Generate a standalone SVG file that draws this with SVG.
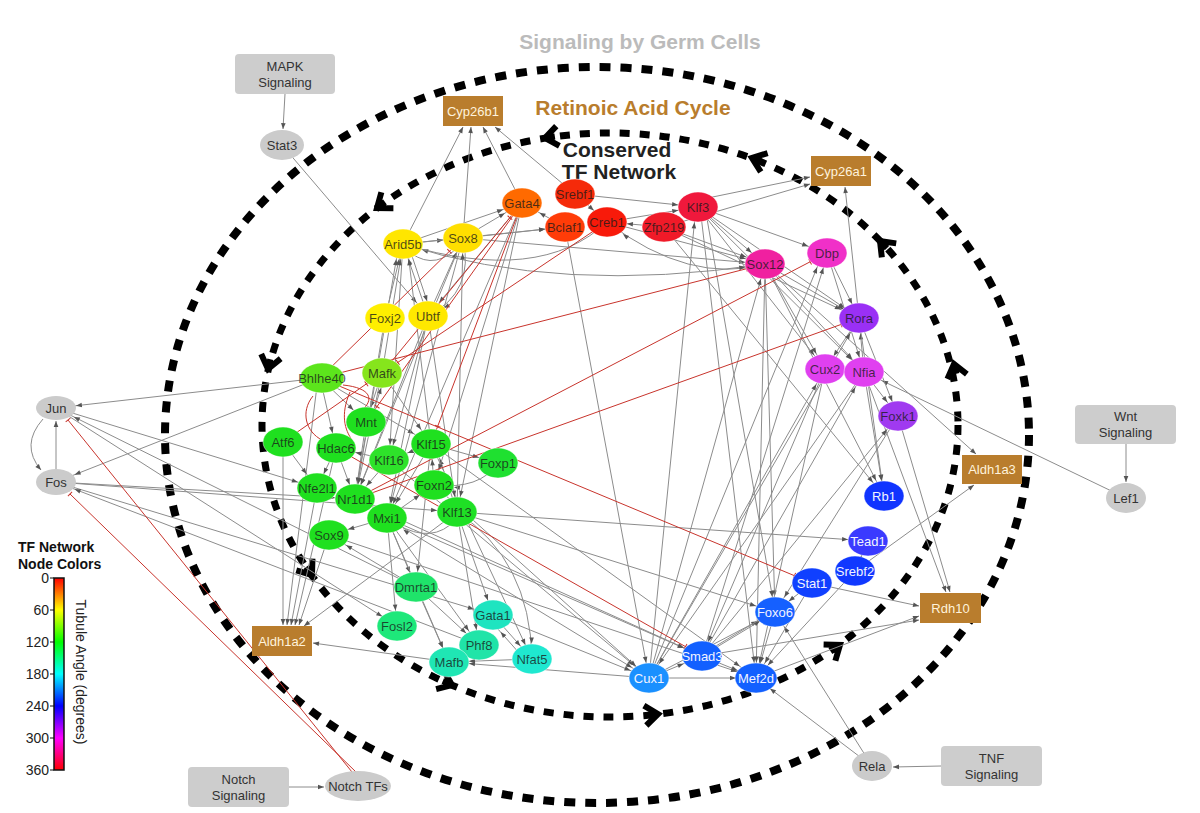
<svg xmlns="http://www.w3.org/2000/svg" width="1200" height="813" viewBox="0 0 1200 813">
<style>
marker{overflow:visible}
.g{stroke:#8c8c8c;stroke-width:1;fill:none}
.r{stroke:#c8342c;stroke-width:1;fill:none}
.lbl{font-family:"Liberation Sans",Arial,sans-serif;font-size:13px;text-anchor:middle}
.dk{fill:#1a1a1a;fill-opacity:0.78}
.wt{fill:#f2f4ff}
.gt{fill:#333}
.box{fill:#b97d2d}
.boxt{fill:#fff3dc}
.sig{fill:#cdcdcd}
.gray{fill:#cbcbcb}
.node{stroke:#ffffff;stroke-width:0.8;stroke-opacity:0.6}
.chev{fill:none;stroke:#000;stroke-width:6;stroke-linejoin:miter}
.title{font-family:"Liberation Sans",Arial,sans-serif;font-weight:bold;font-size:21px;text-anchor:middle}
.leg{font-family:"Liberation Sans",Arial,sans-serif;font-size:14px;fill:#222}
</style>
<defs>
<marker id="h" markerUnits="userSpaceOnUse" orient="auto" overflow="visible" refX="0" refY="0" markerWidth="1" markerHeight="1"><path d="M-26,-2.3L-20,0L-26,2.3z" fill="#555"/></marker>
<marker id="d" markerUnits="userSpaceOnUse" orient="auto" overflow="visible" refX="0" refY="0" markerWidth="1" markerHeight="1"><path d="M-23.5,-2.3L-17.5,0L-23.5,2.3z" fill="#555"/></marker>
<marker id="v" markerUnits="userSpaceOnUse" orient="auto" overflow="visible" refX="0" refY="0" markerWidth="1" markerHeight="1"><path d="M-21.5,-2.3L-15.5,0L-21.5,2.3z" fill="#555"/></marker>
<marker id="e" markerUnits="userSpaceOnUse" orient="auto" overflow="visible" refX="0" refY="0" markerWidth="1" markerHeight="1"><path d="M-6,-2.3L0,0L-6,2.3z" fill="#555"/></marker>
<marker id="t" markerUnits="userSpaceOnUse" orient="auto" overflow="visible" refX="0" refY="0" markerWidth="1" markerHeight="1"><path d="M-19,-3L-19,3" stroke="#c8342c" stroke-width="1"/></marker>
<marker id="t0" markerUnits="userSpaceOnUse" orient="auto" overflow="visible" refX="0" refY="0" markerWidth="1" markerHeight="1"><path d="M0,-3L0,3" stroke="#c8342c" stroke-width="1"/></marker>
<linearGradient id="hue" x1="0" y1="0" x2="0" y2="1">
<stop offset="0" stop-color="#ff0000"/><stop offset="0.1667" stop-color="#ffff00"/><stop offset="0.3333" stop-color="#00ff00"/><stop offset="0.5" stop-color="#00ffff"/><stop offset="0.6667" stop-color="#0000ff"/><stop offset="0.8333" stop-color="#ff00ff"/><stop offset="1" stop-color="#ff0000"/>
</linearGradient>
</defs>
<rect width="1200" height="813" fill="#ffffff"/>

<g id="cycles">
<ellipse cx="597" cy="435" rx="432" ry="368" fill="none" stroke="#000" stroke-width="8" stroke-dasharray="11 10"/>
<ellipse cx="610" cy="425" rx="348" ry="292" fill="none" stroke="#000" stroke-width="7" stroke-dasharray="10 10"/>
<path class="chev" d="M-13,-10L0,0L-13,10M0,0L-10,0" transform="translate(545,138) rotate(171)"/>
<path class="chev" d="M-13,-10L0,0L-13,10M0,0L-10,0" transform="translate(377,208) rotate(143)"/>
<path class="chev" d="M-13,-10L0,0L-13,10M0,0L-10,0" transform="translate(268,369) rotate(103)"/>
<path class="chev" d="M-13,-10L0,0L-13,10M0,0L-10,0" transform="translate(312,575) rotate(54)"/>
<path class="chev" d="M-13,-10L0,0L-13,10M0,0L-10,0" transform="translate(452,685) rotate(23)"/>
<path class="chev" d="M-13,-10L0,0L-13,10M0,0L-10,0" transform="translate(658,714) rotate(-7)"/>
<path class="chev" d="M-13,-10L0,0L-13,10M0,0L-10,0" transform="translate(840,645) rotate(-36)"/>
<path class="chev" d="M-13,-10L0,0L-13,10M0,0L-10,0" transform="translate(954,364) rotate(-104)"/>
<path class="chev" d="M-13,-10L0,0L-13,10M0,0L-10,0" transform="translate(880,241) rotate(-134)"/>
<path class="chev" d="M-13,-10L0,0L-13,10M0,0L-10,0" transform="translate(752,158) rotate(-160)"/>
</g>

<g id="titles">
<text class="title" x="640" y="49" fill="#bbbbbb">Signaling by Germ Cells</text>
<text class="title" x="633" y="115" fill="#b97d2d">Retinoic Acid Cycle</text>
<text class="title" x="617" y="157" fill="#222" font-size="19">Conserved</text>
<text class="title" x="619" y="179" fill="#222" font-size="19">TF Network</text>
</g>

<g id="connectors">
<path class="g" d="M285 94L283 129" marker-end="url(#e)"/>
<path class="g" d="M282 145L428 316" marker-end="url(#d)"/>
<path class="g" d="M403 244L463 127" marker-end="url(#e)"/>
<path class="g" d="M463 238L471 127" marker-end="url(#e)"/>
<path class="g" d="M522 203L483 127" marker-end="url(#e)"/>
<path class="g" d="M575 194L495 127" marker-end="url(#e)"/>
<path class="g" d="M698 200L810 177" marker-end="url(#e)"/>
<path class="g" d="M664 227L810 184" marker-end="url(#e)"/>
<path class="g" d="M859 318L845 187" marker-end="url(#e)"/>
<path class="g" d="M1126 444L1126 482" marker-end="url(#e)"/>
<path class="g" d="M1126 498L864 372" marker-end="url(#h)"/>
<path class="g" d="M941 766L893 767" marker-end="url(#e)"/>
<path class="g" d="M289 787L324 787" marker-end="url(#e)"/>
<path class="g" d="M872 766L775 612" marker-end="url(#d)"/>
<path class="g" d="M872 766L756 678" marker-end="url(#d)"/>
<path class="g" d="M898 416L950 592" marker-end="url(#e)"/>
<path class="g" d="M864 372L946 592" marker-end="url(#e)"/>
<path class="g" d="M812 583L919 606" marker-end="url(#e)"/>
<path class="g" d="M756 678L919 616" marker-end="url(#e)"/>
<path class="g" d="M702 656L919 620" marker-end="url(#e)"/>
<path class="g" d="M765 264L976 454" marker-end="url(#e)"/>
<path class="g" d="M855 571L974 485" marker-end="url(#e)"/>
<path class="g" d="M283 442L283 625" marker-end="url(#e)"/>
<path class="g" d="M318 378L287 625" marker-end="url(#e)"/>
<path class="g" d="M317 488L291 625" marker-end="url(#e)"/>
<path class="g" d="M336 448L295 625" marker-end="url(#e)"/>
<path class="g" d="M329 535L299 625" marker-end="url(#e)"/>
<path class="g" d="M457 512L304 626" marker-end="url(#e)"/>
<path class="g" d="M449 662L313 643" marker-end="url(#e)"/>
<path class="g" d="M320 378L56 408" marker-end="url(#h)"/>
<path class="g" d="M320 378L56 482" marker-end="url(#h)"/>
<path class="g" d="M56 469L56 421" marker-end="url(#e)"/>
<path class="g" d="M43 419Q20 445 41 470" marker-end="url(#e)"/>
<path class="g" d="M56 408L317 488" marker-end="url(#h)"/>
<path class="g" d="M56 408L397 626" marker-end="url(#d)"/>
<path class="g" d="M416 587L56 408" marker-end="url(#h)"/>
<path class="g" d="M56 482L355 499" marker-end="url(#h)"/>
<path class="g" d="M56 482L457 512" marker-end="url(#h)"/>
<path class="g" d="M56 482L493 615" marker-end="url(#h)"/>
<path class="g" d="M479 645L56 482" marker-end="url(#h)"/>
<path class="g" d="M283 442L317 488" marker-end="url(#d)"/>
<path class="g" d="M320 378L336 448" marker-end="url(#v)"/>
<path class="g" d="M320 378L366 422" marker-end="url(#d)"/>
<path class="g" d="M382 373L366 422" marker-end="url(#v)"/>
<path class="g" d="M370 422L386 373" marker-end="url(#v)"/>
<path class="g" d="M366 422L355 499" marker-end="url(#v)"/>
<path class="g" d="M336 448L317 488" marker-end="url(#v)"/>
<path class="g" d="M336 448L355 499" marker-end="url(#v)"/>
<path class="g" d="M389 460L355 499" marker-end="url(#d)"/>
<path class="g" d="M389 460L336 448" marker-end="url(#h)"/>
<path class="g" d="M431 444L389 460" marker-end="url(#h)"/>
<path class="g" d="M382 373L431 444" marker-end="url(#d)"/>
<path class="g" d="M320 378L431 444" marker-end="url(#h)"/>
<path class="g" d="M431 444L498 463" marker-end="url(#h)"/>
<path class="g" d="M434 485L431 444" marker-end="url(#v)"/>
<path class="g" d="M457 512L435 444" marker-end="url(#v)"/>
<path class="g" d="M387 518L434 485" marker-end="url(#d)"/>
<path class="g" d="M450 525Q425 545 387 518" marker-end="url(#h)"/>
<path class="g" d="M387 518L329 535" marker-end="url(#h)"/>
<path class="g" d="M431 444L387 518" marker-end="url(#d)"/>
<path class="g" d="M498 463Q480 490 434 485" marker-end="url(#h)"/>
<path class="g" d="M387 518L416 587" marker-end="url(#v)"/>
<path class="g" d="M387 518L397 626" marker-end="url(#v)"/>
<path class="g" d="M387 518L449 662" marker-end="url(#v)"/>
<path class="g" d="M387 518L479 645" marker-end="url(#d)"/>
<path class="g" d="M416 587L329 535" marker-end="url(#h)"/>
<path class="g" d="M416 587L479 645" marker-end="url(#d)"/>
<path class="g" d="M416 587L449 662" marker-end="url(#v)"/>
<path class="g" d="M457 512L493 615" marker-end="url(#v)"/>
<path class="g" d="M457 512Q530 560 532 659" marker-end="url(#v)"/>
<path class="g" d="M457 512L479 645" marker-end="url(#v)"/>
<path class="g" d="M431 444L532 659" marker-end="url(#v)"/>
<path class="g" d="M493 615L532 659" marker-end="url(#d)"/>
<path class="g" d="M528 663L489 619" marker-end="url(#d)"/>
<path class="g" d="M532 659L449 662" marker-end="url(#h)"/>
<path class="g" d="M649 678L449 662" marker-end="url(#h)"/>
<path class="g" d="M493 615L649 678" marker-end="url(#h)"/>
<path class="g" d="M431 444L416 587" marker-end="url(#v)"/>
<path class="g" d="M387 518L649 678" marker-end="url(#h)"/>
<path class="g" d="M387 518L702 656" marker-end="url(#h)"/>
<path class="g" d="M329 535L756 678" marker-end="url(#h)"/>
<path class="g" d="M457 512L775 612" marker-end="url(#h)"/>
<path class="g" d="M457 512L868 541" marker-end="url(#h)"/>
<path class="g" d="M431 444L756 678" marker-end="url(#h)"/>
<path class="g" d="M389 460L649 678" marker-end="url(#h)"/>
<path class="g" d="M355 499L702 656" marker-end="url(#h)"/>
<path class="g" d="M434 485L649 678" marker-end="url(#d)"/>
<path class="g" d="M403 244L463 238" marker-end="url(#h)"/>
<path class="g" d="M455 250Q430 272 405 248" marker-end="url(#e)"/>
<path class="g" d="M403 244L522 203" marker-end="url(#h)"/>
<path class="g" d="M463 238L522 203" marker-end="url(#h)"/>
<path class="g" d="M565 227L522 203" marker-end="url(#h)"/>
<path class="g" d="M463 238L565 227" marker-end="url(#h)"/>
<path class="g" d="M403 244L565 227" marker-end="url(#h)"/>
<path class="g" d="M607 222Q540 285 403 244" marker-end="url(#h)"/>
<path class="g" d="M575 194L698 207" marker-end="url(#h)"/>
<path class="g" d="M607 222L698 207" marker-end="url(#h)"/>
<path class="g" d="M575 194L607 222" marker-end="url(#d)"/>
<path class="g" d="M664 227L607 222" marker-end="url(#h)"/>
<path class="g" d="M765 264Q690 285 607 222" marker-end="url(#h)"/>
<path class="g" d="M463 238L765 264" marker-end="url(#h)"/>
<path class="g" d="M403 244Q560 295 765 264" marker-end="url(#h)"/>
<path class="g" d="M698 207L765 264" marker-end="url(#d)"/>
<path class="g" d="M664 227L765 264" marker-end="url(#h)"/>
<path class="g" d="M607 222L765 264" marker-end="url(#h)"/>
<path class="g" d="M698 207L827 253" marker-end="url(#h)"/>
<path class="g" d="M698 207L859 318" marker-end="url(#d)"/>
<path class="g" d="M698 207L864 372" marker-end="url(#d)"/>
<path class="g" d="M698 207L825 369" marker-end="url(#d)"/>
<path class="g" d="M664 227L859 318" marker-end="url(#h)"/>
<path class="g" d="M664 227L884 496" marker-end="url(#d)"/>
<path class="g" d="M765 264L859 318" marker-end="url(#d)"/>
<path class="g" d="M765 264L864 372" marker-end="url(#d)"/>
<path class="g" d="M765 264L825 369" marker-end="url(#d)"/>
<path class="g" d="M765 264L884 496" marker-end="url(#d)"/>
<path class="g" d="M765 264L775 612" marker-end="url(#v)"/>
<path class="g" d="M765 264L756 678" marker-end="url(#v)"/>
<path class="g" d="M827 253L859 318" marker-end="url(#v)"/>
<path class="g" d="M827 253L864 372" marker-end="url(#v)"/>
<path class="g" d="M859 318L825 369" marker-end="url(#v)"/>
<path class="g" d="M864 372L859 318" marker-end="url(#v)"/>
<path class="g" d="M859 318L898 416" marker-end="url(#v)"/>
<path class="g" d="M864 372L898 416" marker-end="url(#d)"/>
<path class="g" d="M864 372L884 496" marker-end="url(#v)"/>
<path class="g" d="M898 416L775 612" marker-end="url(#d)"/>
<path class="g" d="M702 656L898 416" marker-end="url(#d)"/>
<path class="g" d="M649 678L696 207" marker-end="url(#v)"/>
<path class="g" d="M705 207L775 612" marker-end="url(#v)"/>
<path class="g" d="M700 207L756 678" marker-end="url(#v)"/>
<path class="g" d="M649 678L765 264" marker-end="url(#v)"/>
<path class="g" d="M649 678L823 253" marker-end="url(#v)"/>
<path class="g" d="M702 656L828 253" marker-end="url(#v)"/>
<path class="g" d="M649 678L859 318" marker-end="url(#d)"/>
<path class="g" d="M649 678L825 369" marker-end="url(#d)"/>
<path class="g" d="M702 656L864 372" marker-end="url(#d)"/>
<path class="g" d="M649 678L702 656" marker-end="url(#h)"/>
<path class="g" d="M649 678L756 678" marker-end="url(#h)"/>
<path class="g" d="M649 678L775 612" marker-end="url(#h)"/>
<path class="g" d="M702 656L775 612" marker-end="url(#d)"/>
<path class="g" d="M706 652L779 608" marker-end="url(#d)"/>
<path class="g" d="M702 656L756 678" marker-end="url(#h)"/>
<path class="g" d="M775 612L756 678" marker-end="url(#v)"/>
<path class="g" d="M855 571L756 678" marker-end="url(#d)"/>
<path class="g" d="M812 583L756 678" marker-end="url(#d)"/>
<path class="g" d="M855 571L868 541" marker-end="url(#v)"/>
<path class="g" d="M812 583L775 612" marker-end="url(#d)"/>
<path class="g" d="M825 369L756 678" marker-end="url(#v)"/>
<path class="g" d="M825 369L702 656" marker-end="url(#v)"/>
<path class="g" d="M859 318L884 496" marker-end="url(#v)"/>
<path class="g" d="M864 372L649 678" marker-end="url(#d)"/>
<path class="g" d="M428 316L403 244" marker-end="url(#v)"/>
<path class="g" d="M408 244L432 316" marker-end="url(#v)"/>
<path class="g" d="M385 318L403 244" marker-end="url(#v)"/>
<path class="g" d="M463 238Q475 292 428 316" marker-end="url(#d)"/>
<path class="g" d="M428 316L463 238" marker-end="url(#v)"/>
<path class="g" d="M522 203L428 316" marker-end="url(#d)"/>
<path class="g" d="M522 203L387 518" marker-end="url(#v)"/>
<path class="g" d="M522 203L457 512" marker-end="url(#v)"/>
<path class="g" d="M522 203L434 485" marker-end="url(#v)"/>
<path class="g" d="M463 238L387 518" marker-end="url(#v)"/>
<path class="g" d="M463 238L355 499" marker-end="url(#v)"/>
<path class="g" d="M428 316L355 499" marker-end="url(#v)"/>
<path class="g" d="M428 316L389 460" marker-end="url(#v)"/>
<path class="g" d="M403 244L389 460" marker-end="url(#v)"/>
<path class="g" d="M385 318L355 499" marker-end="url(#v)"/>
<path class="g" d="M355 499L399 244" marker-end="url(#v)"/>
<path class="g" d="M382 373L403 244" marker-end="url(#v)"/>
<path class="g" d="M431 444L407 244" marker-end="url(#v)"/>
<path class="g" d="M428 316L387 518" marker-end="url(#v)"/>
<path class="g" d="M428 316L457 512" marker-end="url(#v)"/>
<path class="g" d="M457 512L463 238" marker-end="url(#v)"/>
<path class="g" d="M382 373L355 499" marker-end="url(#v)"/>
<path class="g" d="M565 227L649 678" marker-end="url(#v)"/>

<path class="r" d="M352 772L68 420" marker-end="url(#t0)"/>
<path class="r" d="M356 772L70 494" marker-end="url(#t0)"/>
<path class="r" d="M320 378L812 583" marker-end="url(#t)"/>
<path class="r" d="M336 448L702 656" marker-end="url(#t)"/>
<path class="r" d="M355 499L827 253" marker-end="url(#t)"/>
<path class="r" d="M355 499L859 318" marker-end="url(#t)"/>
<path class="r" d="M320 378L765 264" marker-end="url(#t)"/>
<path class="r" d="M320 378L463 238" marker-end="url(#t)"/>
<path class="r" d="M382 373L522 203" marker-end="url(#t)"/>
<path class="r" d="M607 222L382 373" marker-end="url(#t)"/>
<path class="r" d="M522 203L431 444" marker-end="url(#t)"/>
<path class="r" d="M283 442L382 373" marker-end="url(#t)"/>
<path class="r" d="M522 203L366 422" marker-end="url(#t)"/>
<path class="r" d="M343 385C372 388 374 400 362 410"/>
<path class="r" d="M313 396C300 412 306 432 322 440"/>
<path class="r" d="M350 392C340 415 345 430 352 440"/>
</g>

<g id="n-MAPK"><rect class="sig" x="235" y="54" width="100" height="40" rx="4"/><text class="lbl gt" x="285" y="71">MAPK</text><text class="lbl gt" x="285" y="87">Signaling</text></g>
<g id="n-Stat3"><ellipse class="gray" cx="282" cy="145" rx="22" ry="15"/><text class="lbl gt" x="282" y="149.5">Stat3</text></g>
<g id="n-Wnt"><rect class="sig" x="1075" y="405" width="101" height="39" rx="4"/><text class="lbl gt" x="1125.5" y="421">Wnt</text><text class="lbl gt" x="1125.5" y="437">Signaling</text></g>
<g id="n-Lef1"><ellipse class="gray" cx="1126" cy="498" rx="20" ry="15"/><text class="lbl gt" x="1126" y="502.5">Lef1</text></g>
<g id="n-TNF"><rect class="sig" x="941" y="746" width="101" height="40" rx="4"/><text class="lbl gt" x="991.5" y="763">TNF</text><text class="lbl gt" x="991.5" y="779">Signaling</text></g>
<g id="n-Rela"><ellipse class="gray" cx="872" cy="766" rx="20" ry="15"/><text class="lbl gt" x="872" y="770.5">Rela</text></g>
<g id="n-Notch"><rect class="sig" x="188" y="767" width="101" height="40" rx="4"/><text class="lbl gt" x="238.5" y="784">Notch</text><text class="lbl gt" x="238.5" y="800">Signaling</text></g>
<g id="n-NotchTFs"><ellipse class="gray" cx="358" cy="786" rx="33" ry="15"/><text class="lbl gt" x="358" y="790.5">Notch TFs</text></g>
<g id="n-Jun"><ellipse class="gray" cx="56" cy="408" rx="20" ry="12"/><text class="lbl gt" x="56" y="412.5">Jun</text></g>
<g id="n-Fos"><ellipse class="gray" cx="56" cy="482" rx="20" ry="13"/><text class="lbl gt" x="56" y="486.5">Fos</text></g>

<g id="n-Cyp26b1"><rect class="box" x="443" y="96" width="60" height="30"/><text class="lbl boxt" x="473" y="115.5">Cyp26b1</text></g>
<g id="n-Cyp26a1"><rect class="box" x="811" y="156" width="60" height="30"/><text class="lbl boxt" x="841" y="175.5">Cyp26a1</text></g>
<g id="n-Aldh1a3"><rect class="box" x="962" y="455" width="60" height="29"/><text class="lbl boxt" x="992" y="474">Aldh1a3</text></g>
<g id="n-Rdh10"><rect class="box" x="920" y="593" width="61" height="30"/><text class="lbl boxt" x="950.5" y="612.5">Rdh10</text></g>
<g id="n-Aldh1a2"><rect class="box" x="252" y="626" width="60" height="30"/><text class="lbl boxt" x="282" y="645.5">Aldh1a2</text></g>

<g id="n-Gata4"><ellipse class="node" cx="522" cy="203" rx="20" ry="15" fill="#ff6a00"/><text class="lbl dk" x="522" y="207.5">Gata4</text></g>
<g id="n-Srebf1"><ellipse class="node" cx="575" cy="194" rx="20" ry="15" fill="#f52a0a"/><text class="lbl dk" x="575" y="198.5">Srebf1</text></g>
<g id="n-Bclaf1"><ellipse class="node" cx="565" cy="227" rx="20" ry="15" fill="#ff3c08"/><text class="lbl dk" x="565" y="231.5">Bclaf1</text></g>
<g id="n-Creb1"><ellipse class="node" cx="607" cy="222" rx="20" ry="15" fill="#f81a0a"/><text class="lbl dk" x="607" y="226.5">Creb1</text></g>
<g id="n-Zfp219"><ellipse class="node" cx="664" cy="227" rx="22" ry="15" fill="#f01a28"/><text class="lbl dk" x="664" y="231.5">Zfp219</text></g>
<g id="n-Klf3"><ellipse class="node" cx="698" cy="207" rx="20" ry="15" fill="#f0183c"/><text class="lbl dk" x="698" y="211.5">Klf3</text></g>
<g id="n-Arid5b"><ellipse class="node" cx="403" cy="244" rx="20" ry="15" fill="#ffe600"/><text class="lbl dk" x="403" y="248.5">Arid5b</text></g>
<g id="n-Sox8"><ellipse class="node" cx="463" cy="238" rx="20" ry="15" fill="#ffdf00"/><text class="lbl dk" x="463" y="242.5">Sox8</text></g>
<g id="n-Foxj2"><ellipse class="node" cx="385" cy="318" rx="20" ry="15" fill="#ffef00"/><text class="lbl dk" x="385" y="322.5">Foxj2</text></g>
<g id="n-Ubtf"><ellipse class="node" cx="428" cy="316" rx="20" ry="15" fill="#ffe800"/><text class="lbl dk" x="428" y="320.5">Ubtf</text></g>
<g id="n-Dbp"><ellipse class="node" cx="827" cy="253" rx="20" ry="15" fill="#f030c8"/><text class="lbl dk" x="827" y="257.5">Dbp</text></g>
<g id="n-Sox12"><ellipse class="node" cx="765" cy="264" rx="20" ry="15" fill="#f020a0"/><text class="lbl dk" x="765" y="268.5">Sox12</text></g>
<g id="n-Rora"><ellipse class="node" cx="859" cy="318" rx="20" ry="15" fill="#9a30f5"/><text class="lbl dk" x="859" y="322.5">Rora</text></g>
<g id="n-Cux2"><ellipse class="node" cx="825" cy="369" rx="20" ry="15" fill="#e040f0"/><text class="lbl dk" x="825" y="373.5">Cux2</text></g>
<g id="n-Nfia"><ellipse class="node" cx="864" cy="372" rx="20" ry="15" fill="#e040f0"/><text class="lbl dk" x="864" y="376.5">Nfia</text></g>
<g id="n-Foxk1"><ellipse class="node" cx="898" cy="416" rx="20" ry="15" fill="#a03af0"/><text class="lbl dk" x="898" y="420.5">Foxk1</text></g>
<g id="n-Rb1"><ellipse class="node" cx="884" cy="496" rx="20" ry="15" fill="#1034ff"/><text class="lbl wt" x="884" y="500.5">Rb1</text></g>
<g id="n-Tead1"><ellipse class="node" cx="868" cy="541" rx="20" ry="15" fill="#3a3aff"/><text class="lbl wt" x="868" y="545.5">Tead1</text></g>
<g id="n-Srebf2"><ellipse class="node" cx="855" cy="571" rx="20" ry="15" fill="#1038ff"/><text class="lbl wt" x="855" y="575.5">Srebf2</text></g>
<g id="n-Stat1"><ellipse class="node" cx="812" cy="583" rx="20" ry="15" fill="#1040ff"/><text class="lbl wt" x="812" y="587.5">Stat1</text></g>
<g id="n-Foxo6"><ellipse class="node" cx="775" cy="612" rx="20" ry="15" fill="#1560ff"/><text class="lbl wt" x="775" y="616.5">Foxo6</text></g>
<g id="n-Smad3"><ellipse class="node" cx="702" cy="656" rx="20" ry="15" fill="#1260ff"/><text class="lbl wt" x="702" y="660.5">Smad3</text></g>
<g id="n-Cux1"><ellipse class="node" cx="649" cy="678" rx="20" ry="15" fill="#1a90ff"/><text class="lbl wt" x="649" y="682.5">Cux1</text></g>
<g id="n-Mef2d"><ellipse class="node" cx="756" cy="678" rx="21" ry="15" fill="#1260ff"/><text class="lbl wt" x="756" y="682.5">Mef2d</text></g>

<g id="n-Bhlhe40"><ellipse class="node" cx="322" cy="378" rx="22" ry="15" fill="#5ce51c"/><text class="lbl dk" x="322" y="382.5">Bhlhe40</text></g>
<g id="n-Mafk"><ellipse class="node" cx="382" cy="373" rx="20" ry="15" fill="#86e51c"/><text class="lbl dk" x="382" y="377.5">Mafk</text></g>
<g id="n-Atf6"><ellipse class="node" cx="283" cy="442" rx="20" ry="15" fill="#1fe01f"/><text class="lbl dk" x="283" y="446.5">Atf6</text></g>
<g id="n-Mnt"><ellipse class="node" cx="366" cy="422" rx="20" ry="15" fill="#1fe01f"/><text class="lbl dk" x="366" y="426.5">Mnt</text></g>
<g id="n-Hdac6"><ellipse class="node" cx="336" cy="448" rx="20" ry="15" fill="#1fe01f"/><text class="lbl dk" x="336" y="452.5">Hdac6</text></g>
<g id="n-Klf16"><ellipse class="node" cx="389" cy="460" rx="20" ry="15" fill="#2ee22a"/><text class="lbl dk" x="389" y="464.5">Klf16</text></g>
<g id="n-Klf15"><ellipse class="node" cx="431" cy="444" rx="20" ry="15" fill="#1fe01f"/><text class="lbl dk" x="431" y="448.5">Klf15</text></g>
<g id="n-Foxp1"><ellipse class="node" cx="498" cy="463" rx="20" ry="15" fill="#1fe030"/><text class="lbl dk" x="498" y="467.5">Foxp1</text></g>
<g id="n-Nfe2l1"><ellipse class="node" cx="317" cy="488" rx="20" ry="15" fill="#1fe01f"/><text class="lbl dk" x="317" y="492.5">Nfe2l1</text></g>
<g id="n-Nr1d1"><ellipse class="node" cx="355" cy="499" rx="20" ry="15" fill="#1fe01f"/><text class="lbl dk" x="355" y="503.5">Nr1d1</text></g>
<g id="n-Foxn2"><ellipse class="node" cx="434" cy="485" rx="20" ry="15" fill="#1fe01f"/><text class="lbl dk" x="434" y="489.5">Foxn2</text></g>
<g id="n-Klf13"><ellipse class="node" cx="457" cy="512" rx="20" ry="15" fill="#1fe025"/><text class="lbl dk" x="457" y="516.5">Klf13</text></g>
<g id="n-Mxi1"><ellipse class="node" cx="387" cy="518" rx="20" ry="15" fill="#1fe01f"/><text class="lbl dk" x="387" y="522.5">Mxi1</text></g>
<g id="n-Sox9"><ellipse class="node" cx="329" cy="535" rx="20" ry="15" fill="#1fe01f"/><text class="lbl dk" x="329" y="539.5">Sox9</text></g>
<g id="n-Dmrta1"><ellipse class="node" cx="416" cy="587" rx="22" ry="15" fill="#1fe36a"/><text class="lbl dk" x="416" y="591.5">Dmrta1</text></g>
<g id="n-Fosl2"><ellipse class="node" cx="397" cy="626" rx="20" ry="15" fill="#1ee87a"/><text class="lbl dk" x="397" y="630.5">Fosl2</text></g>
<g id="n-Gata1"><ellipse class="node" cx="493" cy="615" rx="20" ry="15" fill="#1fe4c0"/><text class="lbl dk" x="493" y="619.5">Gata1</text></g>
<g id="n-Phf8"><ellipse class="node" cx="479" cy="645" rx="20" ry="15" fill="#20e4a8"/><text class="lbl dk" x="479" y="649.5">Phf8</text></g>
<g id="n-Mafb"><ellipse class="node" cx="449" cy="662" rx="20" ry="15" fill="#1fe6b4"/><text class="lbl dk" x="449" y="666.5">Mafb</text></g>
<g id="n-Nfat5"><ellipse class="node" cx="532" cy="659" rx="20" ry="15" fill="#1fe8d0"/><text class="lbl dk" x="532" y="663.5">Nfat5</text></g>

<g id="legend">
<text x="18" y="552" font-family="Liberation Sans, Arial, sans-serif" font-weight="bold" font-size="14" fill="#111">TF Network</text>
<text x="18" y="569" font-family="Liberation Sans, Arial, sans-serif" font-weight="bold" font-size="14" fill="#111">Node Colors</text>
<rect x="54" y="578" width="10" height="192" fill="url(#hue)" stroke="#111" stroke-width="1.5"/>
<path d="M50 578H54M50 610H54M50 642H54M50 674H54M50 706H54M50 738H54M50 770H54" stroke="#111" stroke-width="1"/>
<text class="leg" x="49" y="583" text-anchor="end">0</text>
<text class="leg" x="49" y="615" text-anchor="end">60</text>
<text class="leg" x="49" y="647" text-anchor="end">120</text>
<text class="leg" x="49" y="679" text-anchor="end">180</text>
<text class="leg" x="49" y="711" text-anchor="end">240</text>
<text class="leg" x="49" y="743" text-anchor="end">300</text>
<text class="leg" x="49" y="775" text-anchor="end">360</text>
<text class="leg" x="76" y="672" text-anchor="middle" font-size="15" transform="rotate(90 76 672)">Tubule Angle (degrees)</text>
</g>
</svg>
